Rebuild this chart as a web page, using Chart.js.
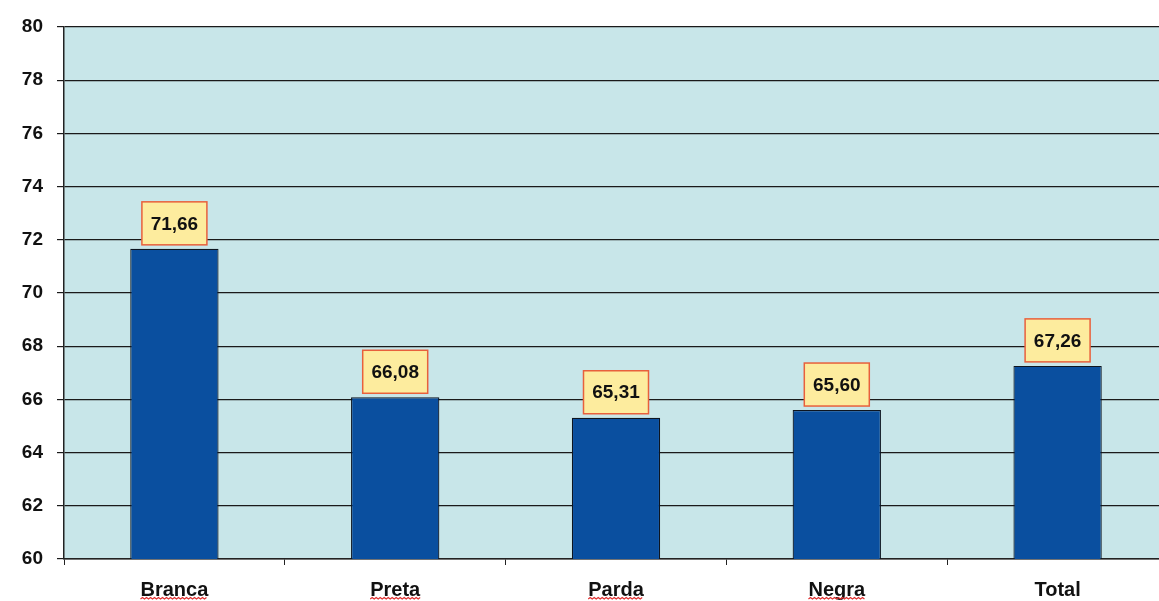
<!DOCTYPE html>
<html>
<head>
<meta charset="utf-8">
<script src="https://cdn.jsdelivr.net/npm/chart.js@4/dist/chart.umd.min.js"></script>
<style>
  html, body { margin: 0; padding: 0; background: #fff; overflow: hidden; }
  #wrap { width: 1159px; height: 601px; overflow: hidden; }
</style>
</head>
<body>
<div id="wrap"><canvas id="chart" width="1168" height="601"></canvas></div>
<script>
const categorias = ['Branca', 'Preta', 'Parda', 'Negra', 'Total'];
const valores = [71.66, 66.08, 65.31, 65.60, 67.26];
const sublinhado = ['Branca', 'Preta', 'Parda', 'Negra']; // spell-check squiggles

const FONTE = '"Liberation Sans", Arial, sans-serif';

// light cyan plot background
const fundo = {
  id: 'fundo',
  beforeDraw(chart) {
    const a = chart.chartArea, ctx = chart.ctx;
    ctx.save();
    ctx.fillStyle = '#c8e6e9';
    ctx.fillRect(a.left, a.top, a.right - a.left, a.bottom - a.top);
    ctx.restore();
  }
};

// yellow value boxes above the bars + red squiggles under labels
const rotulos = {
  id: 'rotulos',
  afterDatasetsDraw(chart) {
    const ctx = chart.ctx;
    const meta = chart.getDatasetMeta(0);
    ctx.save();
    ctx.font = 'bold 19px ' + FONTE;
    ctx.textAlign = 'center';
    ctx.textBaseline = 'middle';
    meta.data.forEach((bar, i) => {
      const txt = valores[i].toFixed(2).replace('.', ',');
      const w = 65, h = 43;
      const x = bar.x - w / 2, y = bar.y - 4 - h;
      ctx.fillStyle = '#fdec9e';
      ctx.fillRect(x, y, w, h);
      ctx.strokeStyle = '#e8603c';
      ctx.lineWidth = 1.5;
      ctx.strokeRect(x, y, w, h);
      ctx.fillStyle = '#111';
      ctx.fillText(txt, bar.x, y + h / 2 + 1);
    });
    // wavy underline
    const xs = chart.scales.x;
    ctx.font = 'bold 20px ' + FONTE;
    ctx.strokeStyle = '#e03030';
    ctx.lineWidth = 1.2;
    categorias.forEach((c, i) => {
      if (!sublinhado.includes(c)) return;
      const cx = xs.getPixelForValue(i);
      const tw = ctx.measureText(c).width;
      const x0 = cx - tw / 2, y0 = 599;
      ctx.beginPath();
      for (let k = 0; x0 + k * 2 <= cx + tw / 2; k++) {
        const yy = y0 + (k % 2 ? -1.5 : 0);
        if (k === 0) ctx.moveTo(x0, yy); else ctx.lineTo(x0 + k * 2, yy);
      }
      ctx.stroke();
    });
    ctx.restore();
  }
};

new Chart(document.getElementById('chart'), {
  type: 'bar',
  data: {
    labels: categorias,
    datasets: [{
      data: valores,
      backgroundColor: '#0a4f9f',
      borderColor: '#0d1520',
      borderWidth: 1.2,
      barPercentage: 0.8,
      categoryPercentage: 0.5
    }]
  },
  options: {
    responsive: false,
    animation: false,
    layout: { padding: { top: 27, right: 0, bottom: 0, left: 0 } },
    plugins: { legend: { display: false }, tooltip: { enabled: false } },
    scales: {
      x: {
        grid: { drawOnChartArea: false, drawTicks: true, tickLength: 6, color: '#222', offset: true },
        border: { color: '#222', width: 1.5 },
        ticks: {
          color: '#111',
          padding: 13,
          font: { family: FONTE, size: 20, weight: 'bold' }
        },
        afterFit(s) { s.height = 42; }
      },
      y: {
        min: 60,
        max: 80,
        ticks: {
          stepSize: 2,
          color: '#111',
          padding: 14,
          font: { family: FONTE, size: 19, weight: 'bold' }
        },
        grid: { color: '#1a1a1a', lineWidth: 1.2, tickLength: 7 },
        border: { color: '#222', width: 1.5 },
        afterFit(s) { s.width = 64; }
      }
    }
  },
  plugins: [fundo, rotulos]
});
</script>
</body>
</html>
